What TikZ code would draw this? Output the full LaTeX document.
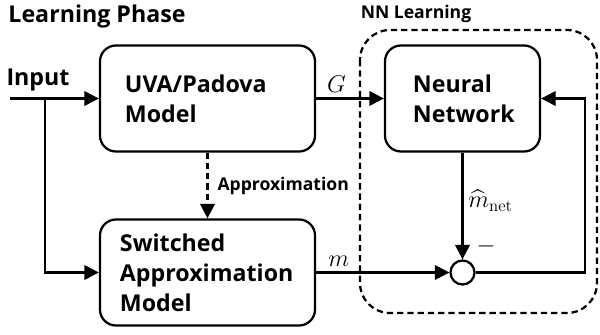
\documentclass[tikz,border=0pt]{standalone}
\usepackage{amsmath}
\usepackage[no-math]{fontspec}
\setmainfont{Open Sans}
\usetikzlibrary{arrows.meta}

\begin{document}
\begin{tikzpicture}[x=0.025cm, y=-0.025cm,
  blk/.style={draw, line width=1.6pt, rounded corners=0.4cm, align=left,
    font=\bfseries\fontsize{16.5}{21.3}\selectfont, minimum height=2.65cm, inner ysep=0pt},
  lbl/.style={font=\bfseries\fontsize{16.5}{21}\selectfont},
  sml/.style={font=\bfseries\fontsize{12.5}{15}\selectfont},
  mth/.style={font=\fontsize{18}{20}\selectfont},
  arr/.style={line width=1.6pt, -{Triangle[length=3.6mm,width=3.6mm]}},
  dsh/.style={line width=1.6pt, dash pattern=on 4.5pt off 2.8pt}]
\useasboundingbox (0,0) rectangle (600,335);

% titles
\node[lbl] (lp) at (97,16) {Learning Phase};
\node[sml] (nnl) at (416,14) {NN Learning};
\draw[dsh, rounded corners=0.75cm] (360,30) rectangle (597,313);

% blocks
\node[blk, text width=4.125cm, inner xsep=0.625cm] (uva) at (207.5,98.5) {UVA/Padova\\Model};
\node[blk, text width=4.375cm, inner xsep=0.5cm] (sw) at (207.5,272.5) {Switched\\Approximation\\Model};
\node[blk, text width=2.475cm, inner xsep=0.7cm] (nn) at (462.5,98.5) {Neural\\Network};
\node[draw, circle, line width=1.6pt, minimum size=0.6cm, inner sep=0pt] (sum) at (462.5,272.5) {};
\node[mth] (mn) at (486,246) {$-$};

\node[lbl] (inp) at (38,80) {Input};
\coordinate (in) at (10,98.5);
\coordinate (br) at (45,98.5);
\coordinate (fb) at (585,272.5);

% connectors
\draw[arr] (in) -- (uva);
\draw[arr] (br) |- (sw);
\draw[arr, dsh] (uva) -- node[right, sml, xshift=3pt] {Approximation} (sw);
\draw[arr] (uva) -- node[above, mth, pos=0.3] {$G$} (nn);
\draw[arr] (sw) -- node[above, mth, pos=0.17] {$m$} (sum);
\draw[arr] (nn) -- node[right, mth, pos=0.45] {$\widehat{m}_{\mathrm{net}}$} (sum);
\draw[arr] (sum) -- (fb) |- (nn);

\end{tikzpicture}
\end{document}
